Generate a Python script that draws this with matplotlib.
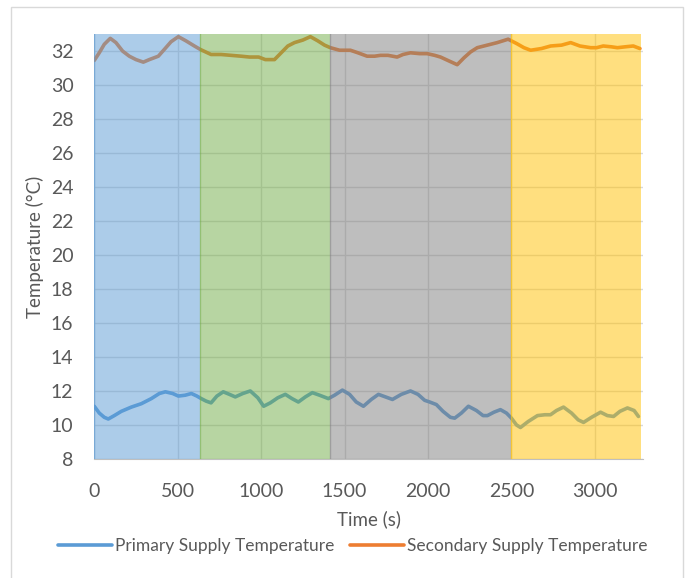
import matplotlib
matplotlib.use('Agg')
from matplotlib import pyplot as plt
from matplotlib.patches import Rectangle

plt.rcParams['font.family'] = ['Lato', 'DejaVu Sans']

# primary supply temperature (time in s, temperature in degC)
primary_t = [0, 30, 60, 84, 120, 162, 222, 282, 342, 390, 426, 470, 504, 545, 582, 615,
             641, 671, 700, 735, 773, 810, 845, 890, 935, 980, 1015, 1055, 1100, 1145,
             1185, 1223, 1265, 1307, 1350, 1403, 1440, 1487, 1530, 1570, 1613, 1660,
             1703, 1745, 1787, 1840, 1895, 1940, 1980, 2010, 2050, 2090, 2134, 2160,
             2200, 2242, 2290, 2330, 2356, 2395, 2434, 2470, 2500, 2530, 2554, 2600,
             2656, 2700, 2734, 2770, 2812, 2860, 2900, 2932, 2980, 3034, 3075, 3112,
             3150, 3195, 3235, 3261]
primary_temp = [11.1, 10.7, 10.45, 10.35, 10.55, 10.8, 11.05, 11.25, 11.55, 11.85, 11.95,
                11.85, 11.7, 11.75, 11.85, 11.7, 11.55, 11.4, 11.3, 11.7, 11.95, 11.8,
                11.65, 11.85, 12.0, 11.6, 11.1, 11.3, 11.6, 11.8, 11.55, 11.35, 11.65,
                11.9, 11.75, 11.55, 11.75, 12.05, 11.8, 11.35, 11.1, 11.5, 11.8, 11.65,
                11.5, 11.8, 12.0, 11.8, 11.45, 11.35, 11.2, 10.8, 10.45, 10.4, 10.7,
                11.1, 10.85, 10.55, 10.55, 10.75, 10.9, 10.7, 10.4, 10.0, 9.85, 10.2,
                10.55, 10.6, 10.6, 10.85, 11.05, 10.7, 10.3, 10.15, 10.45, 10.75, 10.55,
                10.5, 10.8, 11.0, 10.85, 10.5]

# secondary supply temperature
secondary_t = [0, 30, 60, 96, 130, 170, 210, 250, 294, 330, 384, 420, 460, 504, 550, 600,
               635, 700, 760, 820, 880, 930, 985, 1025, 1080, 1120, 1160, 1200, 1250,
               1295, 1340, 1380, 1415, 1470, 1535, 1580, 1635, 1680, 1715, 1760, 1815,
               1850, 1895, 1950, 1995, 2040, 2075, 2130, 2175, 2215, 2255, 2295, 2335,
               2375, 2415, 2480, 2530, 2575, 2615, 2680, 2735, 2800, 2855, 2910, 2975,
               3010, 3050, 3100, 3135, 3180, 3230, 3270]
secondary_temp = [31.45, 31.9, 32.4, 32.75, 32.5, 32.0, 31.7, 31.5, 31.35, 31.5, 31.7,
                  32.1, 32.55, 32.85, 32.6, 32.3, 32.1, 31.8, 31.8, 31.75, 31.7, 31.65,
                  31.65, 31.5, 31.5, 31.9, 32.3, 32.5, 32.65, 32.85, 32.6, 32.35, 32.2,
                  32.05, 32.05, 31.9, 31.7, 31.7, 31.75, 31.75, 31.65, 31.8, 31.9, 31.85,
                  31.85, 31.75, 31.65, 31.4, 31.2, 31.6, 31.95, 32.2, 32.3, 32.4, 32.5,
                  32.7, 32.45, 32.2, 32.05, 32.15, 32.3, 32.35, 32.5, 32.3, 32.2, 32.2,
                  32.3, 32.25, 32.2, 32.25, 32.3, 32.15]

# operating phases shaded over the curves
phase_start = [0, 635, 1415, 2500]
phase_end = [635, 1415, 2500, 3275]
phase_color = ['#5B9BD5', '#70AD47', '#7F7F7F', '#FFC000']

fig = plt.figure(figsize=(6.88, 5.78), dpi=100)
fig.patches.append(Rectangle((0.016, -0.01), 0.977, 0.998, transform=fig.transFigure,
                             fill=False, edgecolor='#D9D9D9', linewidth=1))
ax = fig.add_axes([0.137, 0.206, 0.798, 0.735])

ax.plot(primary_t, primary_temp, color='#5B9BD5', lw=2.6, solid_joinstyle='round',
        solid_capstyle='round', label='Primary Supply Temperature', zorder=2)
ax.plot(secondary_t, secondary_temp, color='#ED7D31', lw=2.6, solid_joinstyle='round',
        solid_capstyle='round', label='Secondary Supply Temperature', zorder=2)

for x0, x1, c in zip(phase_start, phase_end, phase_color):
    ax.axvspan(x0, x1, facecolor=c, edgecolor='none', alpha=0.5, zorder=3)
    ax.axvline(x0, color=c, lw=1, alpha=0.5, zorder=3)

ax.set_xlim(0, 3290)
ax.set_ylim(8, 33)
ax.set_xticks(range(0, 3001, 500))
ax.set_yticks(range(8, 33, 2))
ax.grid(True, color='#D9D9D9', lw=1)
ax.set_axisbelow(True)
for side in ['top', 'right', 'left']:
    ax.spines[side].set_visible(False)
ax.spines['bottom'].set_color('#BFBFBF')
ax.tick_params(axis='x', length=0, labelsize=14, labelcolor='#595959', pad=17)
ax.tick_params(axis='y', length=0, labelsize=14, labelcolor='#595959', pad=15)

ax.set_xlabel('Time (s)', fontsize=13.5, color='#595959', labelpad=8)
ax.set_ylabel('Temperature (°C)', fontsize=13.5, color='#595959', labelpad=5)

ax.legend(loc='center', bbox_to_anchor=(0.471, -0.205), ncol=2, frameon=False,
          fontsize=12.5, labelcolor='#595959', handlelength=3.1, handletextpad=0.2,
          columnspacing=0.9)

fig.savefig('out.png', dpi=100)
